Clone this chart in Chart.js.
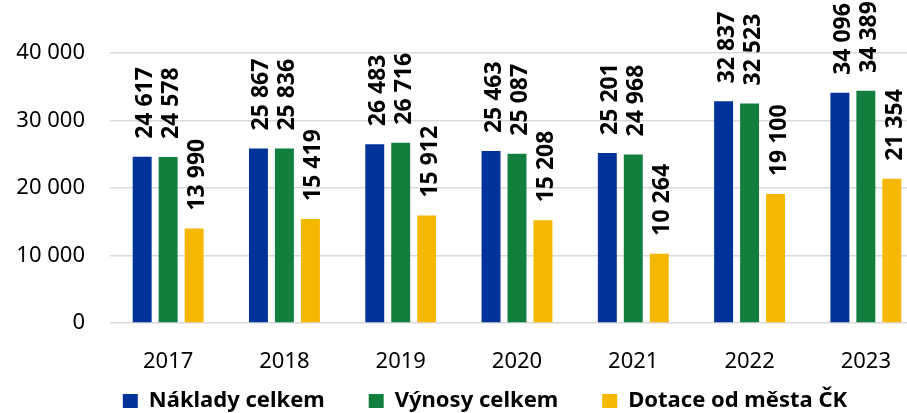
<!DOCTYPE html>
<html lang="cs">
<head>
<meta charset="utf-8">
<title>Náklady, výnosy a dotace</title>
<script src="https://cdn.jsdelivr.net/npm/chart.js@4.4.1/dist/chart.umd.min.js"></script>
<style>
    html, body { margin: 0; padding: 0; background: #fff; overflow: hidden; }
    #wrap { width: 970px; height: 422px; }
</style>
</head>
<body>
<div id="wrap"><canvas id="financeChart" width="970" height="422"></canvas></div>
<script>
// roky a hodnoty (tis. Kč)
const years = ['2017', '2018', '2019', '2020', '2021', '2022', '2023'];
const naklady = [24617, 25867, 26483, 25463, 25201, 32837, 34096];
const vynosy = [24578, 25836, 26716, 25087, 24968, 32523, 34389];
const dotace = [13990, 15419, 15912, 15208, 10264, 19100, 21354];
const yTicks = [0, 10000, 20000, 30000, 40000];

const FONT = '"Noto Sans", "Open Sans", sans-serif';

// formát s mezerou jako oddělovačem tisíců
function formatNum(v) {
    return String(v).replace(/\B(?=(\d{3})+(?!\d))/g, ' ');
}

// svislé popisky nad sloupci
const barLabels = {
    id: 'barLabels',
    afterDatasetsDraw(chart) {
        const ctx = chart.ctx;
        const size = 23;
        ctx.save();
        ctx.font = 'bold ' + size + 'px ' + FONT;
        ctx.fillStyle = '#000';
        ctx.textAlign = 'left';
        ctx.textBaseline = 'alphabetic';
        chart.data.datasets.forEach((ds, i) => {
            const meta = chart.getDatasetMeta(i);
            meta.data.forEach((bar, j) => {
                ctx.save();
                ctx.translate(bar.x + 10, bar.y - 18);
                ctx.rotate(-Math.PI / 2);
                ctx.fillText(formatNum(ds.data[j]), 0, 0);
                ctx.restore();
            });
        });
        ctx.restore();
    }
};

// osa x je úzká kvůli legendě, popisky roků ale nesmí být oříznuté
const xLabelRoom = {
    id: 'xLabelRoom',
    afterLayout(chart) {
        const x = chart.scales.x;
        x.bottom = x.top + 60;
        x.height = 60;
    }
};

const ctx = document.getElementById('financeChart').getContext('2d');
window.financeChart = new Chart(ctx, {
    type: 'bar',
    data: {
        labels: years,
        datasets: [
            { label: 'Náklady celkem', data: naklady, backgroundColor: '#003399' },
            { label: 'Výnosy celkem', data: vynosy, backgroundColor: '#127f3f' },
            { label: 'Dotace od města ČK', data: dotace, backgroundColor: '#f5b800' }
        ]
    },
    options: {
        responsive: false,
        animation: false,
        devicePixelRatio: 1,
        categoryPercentage: 0.67,
        barPercentage: 0.73,
        layout: { padding: { left: 0, right: 0, top: 53, bottom: 0 } },
        plugins: {
            tooltip: { enabled: false },
            legend: {
                position: 'bottom',
                labels: {
                    boxWidth: 15,
                    boxHeight: 14,
                    padding: 44,
                    color: '#000',
                    font: { family: FONT, size: 22, weight: 'bold' }
                }
            }
        },
        scales: {
            x: {
                grid: { display: false },
                border: { display: false },
                ticks: {
                    color: '#000',
                    padding: 18,
                    font: { family: FONT, size: 22 }
                },
                afterFit(scale) { scale.height = 23; }
            },
            y: {
                min: 0,
                max: 40000,
                afterBuildTicks(scale) {
                    scale.ticks = yTicks.map(v => ({ value: v }));
                },
                grid: {
                    color: '#d9d9d9',
                    lineWidth: 1.5,
                    drawTicks: false
                },
                border: { display: false },
                ticks: {
                    color: '#000',
                    padding: 25,
                    font: { family: FONT, size: 22 },
                    callback: v => formatNum(v)
                },
                afterFit(scale) { scale.width = 110; }
            },
            // prázdný okraj vpravo, legenda zůstává na celé šířce
            yRight: {
                position: 'right',
                grid: { display: false },
                border: { display: false },
                ticks: { display: false },
                afterFit(scale) { scale.width = 46; }
            }
        }
    },
    plugins: [barLabels, xLabelRoom]
});
</script>
</body>
</html>
